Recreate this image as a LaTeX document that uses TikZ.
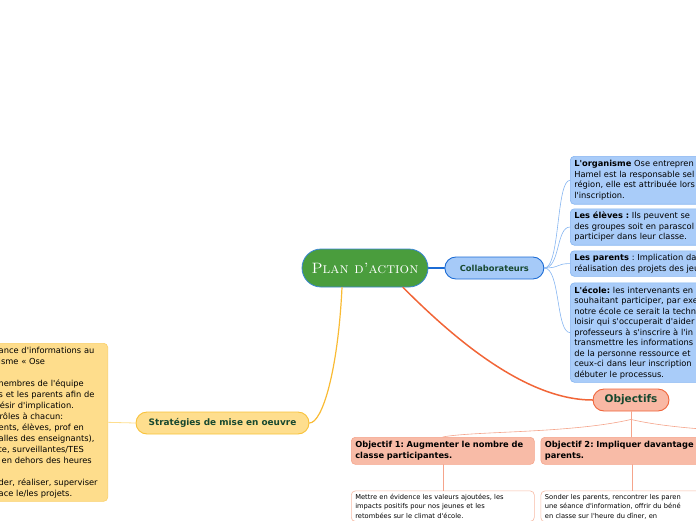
\documentclass[tikz,border=0pt]{standalone}
\usepackage{fontspec}
\newfontfamily\mapfont{DejaVu Sans}
\usepackage{xcolor}
\usetikzlibrary{positioning,calc}
\definecolor{rootgreen}{HTML}{4A9D3D}
\definecolor{rootline}{HTML}{3A86D4}
\definecolor{labelgreen}{HTML}{17482F}
\definecolor{collabfill}{HTML}{A6CAF8}
\definecolor{collabline}{HTML}{1C6CD5}
\definecolor{cardblue}{HTML}{A9CCF9}
\definecolor{cardblueline}{HTML}{86B5F1}
\definecolor{objfill}{HTML}{F9B8A4}
\definecolor{objline}{HTML}{F0643A}
\definecolor{goalfill}{HTML}{F8BBA7}
\definecolor{goalline}{HTML}{F5A48B}
\definecolor{noteline}{HTML}{F8BBA5}
\definecolor{stratfill}{HTML}{FEDE8E}
\definecolor{stratline}{HTML}{F8C23A}
\definecolor{ideafill}{HTML}{FEDD8C}
\definecolor{idealine}{HTML}{FAD06A}
\tikzset{
  mm/root/.style={
    rectangle, rounded corners=19pt,
    minimum width=126pt, minimum height=38pt,
    fill=rootgreen, draw=rootline, line width=0.8pt,
    text=white, font=\fontsize{15}{15}\selectfont\scshape
  },
  mm/pill/.style={
    rectangle, rounded corners=11pt, minimum height=22pt,
    line width=0.9pt, text=labelgreen,
    font=\mapfont\bfseries\fontsize{#1}{10}\selectfont
  },
  mm/pill/.default=8.3,
  mm/card/.style={
    rounded corners=4pt, align=left,
    inner xsep=4pt, inner ysep=3.5pt, line width=0.6pt,
    font=\mapfont\fontsize{8.3}{10.5}\selectfont
  },
  mm/collab card/.style={mm/card, anchor=north west, text width=200pt, fill=cardblue, draw=cardblueline},
  mm/goal/.style={mm/card, anchor=north west, text width=175pt, fill=goalfill, draw=goalline,
    inner ysep=4pt, font=\mapfont\bfseries\fontsize{8.3}{11}\selectfont},
  mm/note/.style={mm/card, anchor=north west, text width=175pt, fill=white, draw=noteline,
    inner ysep=3pt, font=\mapfont\fontsize{6.7}{9.5}\selectfont},
  mm/idea/.style={mm/card, anchor=north east, text width=105pt, fill=ideafill, draw=idealine,
    font=\mapfont\fontsize{8.3}{11}\selectfont},
  mm/link/.style={line width=#1, line cap=round},
  mm/link/.default=0.6pt
}

\begin{document}
\frenchspacing
\begin{tikzpicture}[x=1pt, y=-1pt]
\useasboundingbox (0,0) rectangle (696,520);
\clip (0,0) rectangle (696,520);

\node (root) [mm/root] at (365,268) {Plan d'action};

\node (collab) [mm/pill, fill=collabfill, draw=collabline, minimum width=99pt,
  right=16pt of root] {Collaborateurs};
\node (obj) [mm/pill=10.5, fill=objfill, draw=objline, minimum width=76pt] at (631,400) {Objectifs};
\node (strat) [mm/pill=8.9, fill=stratfill, draw=stratline, minimum width=173pt] at (222.5,423)
  {Stratégies de mise en oeuvre};

% --- collaborateurs
\node (org) [mm/collab card, inner ysep=4.2pt] at (570,156) {%
  \textbf{L'organisme} Ose entrepren\\
  Hamel est la responsable sel\\
  région, elle est attribuée lors\\
  l'inscription.};
\node (eleves) [mm/collab card, below=4pt of org.south west, anchor=north west] {%
  \textbf{Les élèves :} Ils peuvent se\\
  des groupes soit en parascol\\
  participer dans leur classe.};
\node (parents) [mm/collab card, below=5pt of eleves.south west, anchor=north west] {%
  \textbf{Les parents} : Implication dan\\
  réalisation des projets des jeu};
\node (ecole) [mm/collab card, below=6pt of parents.south west, anchor=north west] {%
  \textbf{L'école:} les intervenants en\\
  souhaitant participer, par exe\\
  notre école ce serait la techn\\
  loisir qui s'occuperait d'aider\\
  professeurs à s'inscrire à l'in\\
  transmettre les informations\\
  de la personne ressource et\\
  ceux-ci dans leur inscription\\
  débuter le processus.};

% --- objectifs
\node (obj1) [mm/goal] at (351,437) {Objectif 1: Augmenter le nombre de\\ classe participantes.};
\node (obj2) [mm/goal, right=6pt of obj1.north east, anchor=north west]
  {Objectif 2: Impliquer davantage\\ parents.};
\node (note1) [mm/note, below=26pt of obj1.south west, anchor=north west] {%
  Mettre en évidence les valeurs ajoutées, les\\
  impacts positifs pour nos jeunes et les\\
  retombées sur le climat d'école.};
\node (note2) [mm/note, below=26pt of obj2.south west, anchor=north west] {%
  Sonder les parents, rencontrer les paren\\
  une séance d'information, offrir du béné\\
  en classe sur l'heure du dîner, en};
\coordinate (obj3) at (820.5,437);
\coordinate (fork) at ($(obj.south)+(0,8)$);

% --- strategies
\node (idea) [mm/idea] at (108,343) {%
  ance d'informations au\\
  isme « Ose\\
  \mbox{}\\
  \hspace*{-3pt}membres de l'équipe\\
  s et les parents afin de\\
  \hspace*{-4pt}désir d'implication.\\
  \hspace*{1pt}rôles à chacun:\\
  ents, élèves, prof en\\
  alles des enseignants),\\
  te, surveillantes/TES\\
  \hspace*{3pt}en dehors des heures\\
  \mbox{}\\
  der, réaliser, superviser\\
  ace le/les projets.};

% --- links
\draw[mm/link=1.2pt, draw=collabline] (root.east) -- (collab.west);
\foreach \card in {org,eleves,parents,ecole}
  \draw[mm/link, draw=cardblueline] (collab.east) .. controls +(16,0) and +(-14,0) .. (\card.west);

\draw[mm/link=1.5pt, draw=objline!95!orange] ([xshift=38pt]root.south)
  .. controls +(45,45) and +(-70,0) .. (obj.west);
\draw[mm/link, draw=goalline] (obj.south) -- (fork);
\draw[mm/link, draw=goalline] (fork) -- (obj.south |- obj2.north);
\draw[mm/link, draw=goalline] (fork) .. controls +(-60,14) and +(30,-6) .. (obj1.north);
\draw[mm/link, draw=goalline] (fork) .. controls +(60,14) and +(-30,-6) .. (obj3);
\draw[mm/link, draw=goalline] (obj1.south) -- (note1.north);
\draw[mm/link, draw=goalline] (obj2.south) -- (note2.north);

\draw[mm/link=1.2pt, draw=stratline!90!orange] ([xshift=-23pt]root.south)
  .. controls +(-4,83) and +(13,0) .. (strat.east);
\draw[mm/link=0.8pt, draw=stratfill] (strat.west) -- (idea.east);

\end{tikzpicture}
\end{document}
